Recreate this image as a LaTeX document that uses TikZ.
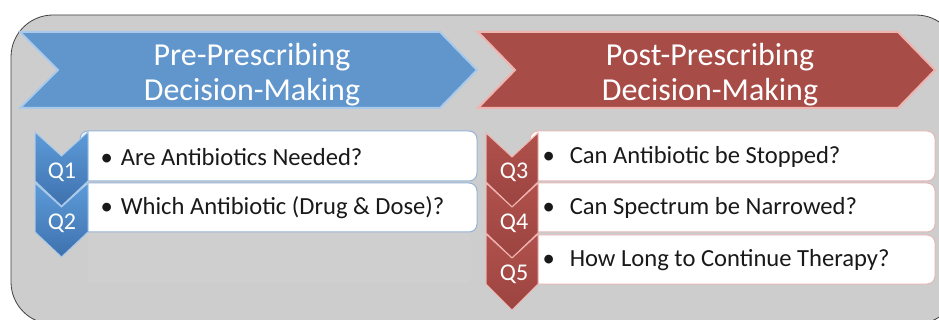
\documentclass[tikz,border=0pt]{standalone}
\usepackage{fontspec}
\setmainfont{Carlito}
\usetikzlibrary{calc}

\definecolor{panelgray}{HTML}{CDCDCD}
\definecolor{prefill}{HTML}{6196CC}
\definecolor{preedge}{HTML}{A9C9EA}
\definecolor{prebox}{HTML}{95B3D7}
\definecolor{qbluetop}{HTML}{5C9BD8}
\definecolor{qbluebot}{HTML}{3E71AE}
\definecolor{postfill}{HTML}{A84C48}
\definecolor{postedge}{HTML}{F0B4B0}
\definecolor{postbox}{HTML}{E3B8B6}
\definecolor{qredtop}{HTML}{B0514D}
\definecolor{qredbot}{HTML}{9C4440}

\tikzset{
  hdrshape/.style={line width=2pt,line join=miter},
  hdrtext/.style={text=white,align=center,font=\fontsize{32}{35}\selectfont},
  rowbox/.style={fill=white,line width=1pt,rounded corners=8pt},
  rowtext/.style={anchor=west,text=black!90,font=\fontsize{24.6}{28}\selectfont},
  qblue/.style={top color=qbluetop,bottom color=qbluebot,draw=preedge,line width=1pt},
  qred/.style={top color=qredtop,bottom color=qredbot,draw=postedge,line width=1pt},
  qtext/.style={text=white,font=\fontsize{24}{28}\selectfont}
}

\begin{document}
\begin{tikzpicture}[x=1pt,y=-1pt]
  \useasboundingbox (0,0) rectangle (939,320);

  % Panel
  \begin{scope}
    \clip (0,0) rectangle (939,320);
    \draw[rounded corners=42pt,fill=panelgray,draw=black!75,line width=0.8pt]
      (11,15) rectangle (958,324);
  \end{scope}
  \fill[panelgray!96!white] (88,131) rectangle (470,283);

  % Header chevrons
  \draw[hdrshape,fill=prefill,draw=preedge]
    (20,32) -- (440,32) -- (477,70) -- (440,108) -- (20,108) -- (58,70) -- cycle;
  \node[hdrtext] (preHdr) at (252,75) {Pre-Prescribing\\Decision-Making};

  \draw[hdrshape,fill=postfill,draw=postedge]
    (478,32) -- (898,32) -- (935,70) -- (898,108) -- (478,108) -- (515,70) -- cycle;
  \node[hdrtext] (postHdr) at (710,75) {Post-Prescribing\\Decision-Making};

  % Question rows, pre-prescribing
  \draw[rowbox,draw=prebox] (80,131) rectangle (477,181);
  \draw[rowbox,draw=prebox] (80,183) rectangle (477,232);
  \node[rowtext] (r1) at (97,157) {•\hspace{8pt}Are Antibiotics Needed?};
  \node[rowtext] (r2) at (97,208) {•\hspace{8pt}Which Antibiotic (Drug \& Dose)?};

  \draw[qblue] (35,132) -- (61.5,156) -- (88,132) -- (88,181) -- (61.5,206) -- (35,181) -- cycle;
  \draw[qblue] (35,183) -- (61.5,207) -- (88,183) -- (88,232) -- (61.5,257) -- (35,232) -- cycle;
  \node[qtext] (q1) at (62,172) {Q1};
  \node[qtext] (q2) at (62,223) {Q2};

  % Question rows, post-prescribing
  \draw[rowbox,draw=postbox] (530,131) rectangle (935,181);
  \draw[rowbox,draw=postbox] (530,183) rectangle (935,232);
  \draw[rowbox,draw=postbox] (530,235) rectangle (935,284);
  \node[rowtext] (r3) at (539,157) {•\hspace{15pt}Can Antibiotic be Stopped?};
  \node[rowtext] (r4) at (539,208) {•\hspace{15pt}Can Spectrum be Narrowed?};
  \node[rowtext] (r5) at (539,260) {•\hspace{15pt}How Long to Continue Therapy?};

  \draw[qred] (486,133) -- (512,157) -- (538,133) -- (538,182) -- (512,207) -- (486,182) -- cycle;
  \draw[qred] (486,183) -- (512,207) -- (538,183) -- (538,233) -- (512,258) -- (486,233) -- cycle;
  \draw[qred] (486,234) -- (512,258) -- (538,234) -- (538,284) -- (512,310) -- (486,284) -- cycle;
  \node[qtext] (q3) at (514,172) {Q3};
  \node[qtext] (q4) at (514,223) {Q4};
  \node[qtext] (q5) at (514,274) {Q5};

\end{tikzpicture}
\end{document}
